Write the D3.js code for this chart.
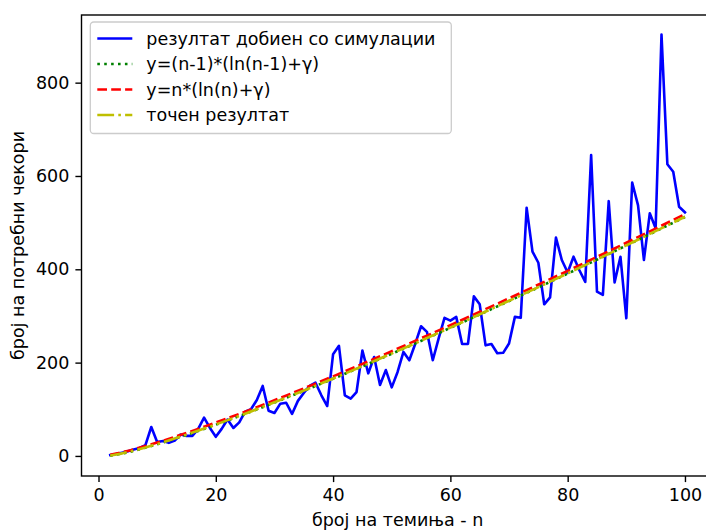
<!DOCTYPE html>
<html>
<head>
<meta charset="utf-8">
<script src="https://cdn.jsdelivr.net/npm/d3@7"></script>
<style>
  html, body { margin: 0; background: #fff; overflow: hidden; }
  svg { display: block; overflow: hidden; font-family: "DejaVu Sans", sans-serif; }
</style>
</head>
<body>
<script>
var width = 706,
    height = 530;

// simulation result, n = 2 .. 100
var simStart = 2;
var simValues = [2, 4, 7, 10, 14, 17, 23, 62, 30, 32, 28, 33, 46, 43, 43, 58, 82, 60, 41,
  58, 78, 60, 72, 95, 100, 120, 150, 97, 92, 112, 114, 90, 118, 135, 150, 157, 130, 107, 218,
  236, 130, 123, 137, 226, 177, 212, 152, 184, 147, 180, 223, 205, 240, 278, 266, 205, 252, 296,
  290, 298, 240, 240, 342, 325, 237, 240, 220, 221, 241, 298, 296, 532, 438, 414, 325, 340, 468,
  420, 393, 427, 398, 373, 645, 352, 345, 546, 372, 427, 295, 586, 537, 420, 520, 488, 903,
  625, 609, 534, 522];

// theoretical curves, read at these n
var theoryN = [2, 3, 4, 6, 8, 10, 15, 20, 25, 30, 40, 50, 60, 70, 80, 90, 100];
var approxPrev = [0.6, 2.5, 5.0, 10.9, 17.7, 25.0, 45.0, 66.9, 90.1, 114.4, 165.4, 219.0, 274.6, 332.0, 390.8, 450.9, 512.1];
var approxN = [2.5, 5.0, 7.9, 14.2, 21.3, 28.8, 49.3, 71.5, 94.9, 119.4, 170.6, 224.5, 280.3, 337.8, 396.7, 456.9, 518.2];
var exact = [1.0, 3.0, 5.5, 11.4, 18.2, 25.5, 45.5, 67.4, 90.6, 114.9, 165.9, 219.5, 275.1, 332.5, 391.3, 451.4, 512.6];

var labels = ["резултат добиен со симулации", "y=(n-1)*(ln(n-1)+γ)", "y=n*(ln(n)+γ)", "точен резултат"];
var xTicks = [0, 20, 40, 60, 80, 100];
var yTicks = [0, 200, 400, 600, 800];

var axL = 81.5, axR = 713.7, axT = 15, axB = 476;
var fs = 17.5, lw = 2.6;

var svg = d3.select("body").append("svg")
            .attr("width", width)
            .attr("height", height);

var x = d3.scaleLinear().domain([-2.9, 104.9]).range([axL, axR]);
var y = d3.scaleLinear().domain([-43, 945]).range([axB, axT]);

var series = [
  {label: labels[0], color: "#0000ff", dash: null,
   pts: simValues.map(function(v, i) { return [simStart + i, v]; }), curve: d3.curveLinear},
  {label: labels[1], color: "#008000", dash: "2.6,4.3",
   pts: theoryN.map(function(n, i) { return [n, approxPrev[i]]; }), curve: d3.curveMonotoneX},
  {label: labels[2], color: "#ff0000", dash: "9.7,4.2",
   pts: theoryN.map(function(n, i) { return [n, approxN[i]]; }), curve: d3.curveMonotoneX},
  {label: labels[3], color: "#bfbf00", dash: "16.8,4.2,2.6,4.2",
   pts: theoryN.map(function(n, i) { return [n, exact[i]]; }), curve: d3.curveMonotoneX}
];

svg.append("clipPath").attr("id", "clip")
  .append("rect").attr("x", axL).attr("y", axT)
  .attr("width", axR - axL).attr("height", axB - axT);

var plot = svg.append("g").attr("clip-path", "url(#clip)");

series.forEach(function(s) {
  var line = d3.line()
    .x(function(d) { return x(d[0]); })
    .y(function(d) { return y(d[1]); })
    .curve(s.curve);
  plot.append("path")
    .attr("d", line(s.pts))
    .attr("fill", "none")
    .attr("stroke", s.color)
    .attr("stroke-width", lw)
    .attr("stroke-dasharray", s.dash)
    .attr("stroke-linejoin", "round")
    .attr("stroke-linecap", s.dash ? "butt" : "square");
});

// axes
var xAxis = svg.append("g")
  .attr("transform", "translate(0," + axB + ")")
  .call(d3.axisBottom(x).tickValues(xTicks).tickSize(6.1).tickPadding(6.1));
var yAxis = svg.append("g")
  .attr("transform", "translate(" + axL + ",0)")
  .call(d3.axisLeft(y).tickValues(yTicks).tickSize(6.1).tickPadding(6.1));

[xAxis, yAxis].forEach(function(a) {
  a.select(".domain").remove();
  a.selectAll(".tick line").attr("stroke", "#000").attr("stroke-width", 1.4);
  a.selectAll(".tick text")
    .attr("fill", "#000")
    .style("font-family", "DejaVu Sans, sans-serif")
    .style("font-size", fs + "px");
});

// spines (right one falls outside the cropped picture)
svg.append("rect")
  .attr("x", axL).attr("y", axT)
  .attr("width", axR - axL).attr("height", axB - axT)
  .attr("fill", "none").attr("stroke", "#000").attr("stroke-width", 1.4);

// axis labels
svg.append("text")
  .attr("x", (axL + axR) / 2).attr("y", 526)
  .attr("text-anchor", "middle")
  .style("font-size", fs + "px")
  .text("број на темиња - n");

svg.append("text")
  .attr("transform", "translate(24," + (axT + axB) / 2 + ")rotate(-90)")
  .attr("text-anchor", "middle")
  .style("font-size", fs + "px")
  .text("број на потребни чекори");

// legend
var lgX = 90.3, lgY = 22, rowH = 25.5;
var legend = svg.append("g");
legend.append("rect")
  .attr("x", lgX).attr("y", lgY)
  .attr("width", 361).attr("height", 111.5)
  .attr("rx", 3.5)
  .attr("fill", "#fff").attr("fill-opacity", 0.8)
  .attr("stroke", "#cccccc").attr("stroke-width", 1.3);

series.forEach(function(s, i) {
  var cy = lgY + 16.5 + i * rowH;
  legend.append("line")
    .attr("x1", lgX + 7).attr("x2", lgX + 42)
    .attr("y1", cy).attr("y2", cy)
    .attr("stroke", s.color).attr("stroke-width", lw)
    .attr("stroke-dasharray", s.dash);
  legend.append("text")
    .attr("x", lgX + 56).attr("y", cy)
    .attr("dy", "0.35em")
    .style("font-size", fs + "px")
    .text(s.label);
});
</script>
</body>
</html>
